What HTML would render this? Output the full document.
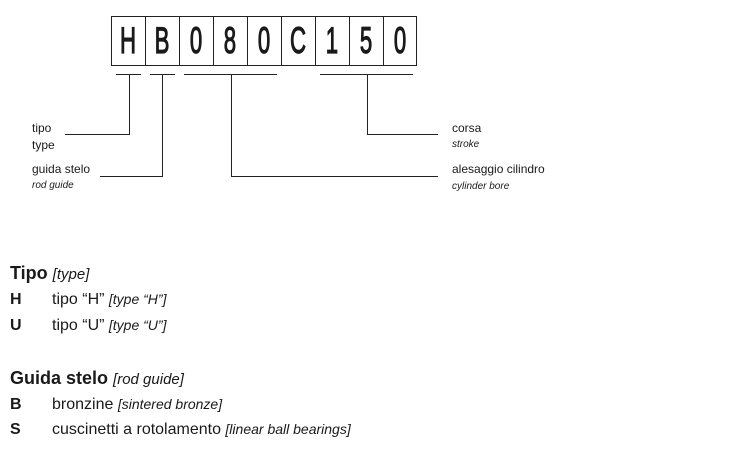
<!DOCTYPE html>
<html><head><meta charset="utf-8"><style>
html,body{margin:0;padding:0;background:#fff;width:755px;height:458px;overflow:hidden}
svg text{font-family:"Liberation Sans Narrow","Liberation Sans",sans-serif;fill:#1a1a1a}
</style></head><body>
<svg width="755" height="458" viewBox="0 0 755 458" xmlns="http://www.w3.org/2000/svg">
<g stroke="#222" stroke-width="1" fill="none">
<rect x="111.5" y="16.5" width="305" height="49"/>
<line x1="145.5" y1="16" x2="145.5" y2="66"/>
<line x1="179.5" y1="16" x2="179.5" y2="66"/>
<line x1="213.5" y1="16" x2="213.5" y2="66"/>
<line x1="247.5" y1="16" x2="247.5" y2="66"/>
<line x1="281.5" y1="16" x2="281.5" y2="66"/>
<line x1="315.5" y1="16" x2="315.5" y2="66"/>
<line x1="349.5" y1="16" x2="349.5" y2="66"/>
<line x1="383.5" y1="16" x2="383.5" y2="66"/>
<line x1="116" y1="74.5" x2="141" y2="74.5"/>
<line x1="150" y1="74.5" x2="175" y2="74.5"/>
<line x1="184" y1="74.5" x2="277" y2="74.5"/>
<line x1="320" y1="74.5" x2="413" y2="74.5"/>
<polyline points="129.5,74 129.5,134.5 65,134.5"/>
<polyline points="162.5,74 162.5,176.5 100,176.5"/>
<polyline points="231.5,74 231.5,176.5 438,176.5"/>
<polyline points="367.5,74 367.5,134.5 438,134.5"/>
</g>
<g transform="scale(0.6,1)" font-size="37" text-anchor="middle" stroke="#1a1a1a" stroke-width="1.2">
<text x="213.3" y="53">H</text><text x="270" y="53">B</text><text x="326.7" y="53">0</text>
<text x="383.3" y="53">8</text><text x="440" y="53">0</text><text x="496.7" y="53">C</text>
<text x="553.3" y="53">1</text><text x="610" y="53">5</text><text x="666.7" y="53">0</text>
</g>
<g font-size="12">
<text x="32" y="132">tipo</text>
<text x="32" y="149">type</text>
<text x="32" y="173">guida stelo</text>
<text x="32" y="188" font-style="italic" font-size="10">rod guide</text>
<text x="452" y="132">corsa</text>
<text x="452" y="147" font-style="italic" font-size="10">stroke</text>
<text x="452" y="173">alesaggio cilindro</text>
<text x="452" y="189" font-style="italic" font-size="10">cylinder bore</text>
</g>
<g font-size="16">
<text x="10" y="279" font-weight="bold" font-size="18">Tipo <tspan font-weight="normal" font-style="italic" font-size="15">[type]</tspan></text>
<text x="10" y="304" font-weight="bold">H</text>
<text x="52" y="304">tipo “H” <tspan font-style="italic" font-size="14">[type “H”]</tspan></text>
<text x="10" y="330" font-weight="bold">U</text>
<text x="52" y="330">tipo “U” <tspan font-style="italic" font-size="14">[type “U”]</tspan></text>
<text x="10" y="384" font-weight="bold" font-size="18">Guida stelo <tspan font-weight="normal" font-style="italic" font-size="15">[rod guide]</tspan></text>
<text x="10" y="409" font-weight="bold">B</text>
<text x="52" y="409">bronzine <tspan font-style="italic" font-size="14">[sintered bronze]</tspan></text>
<text x="10" y="434" font-weight="bold">S</text>
<text x="52" y="434">cuscinetti a rotolamento <tspan font-style="italic" font-size="14">[linear ball bearings]</tspan></text>
</g>
</svg>
</body></html>
